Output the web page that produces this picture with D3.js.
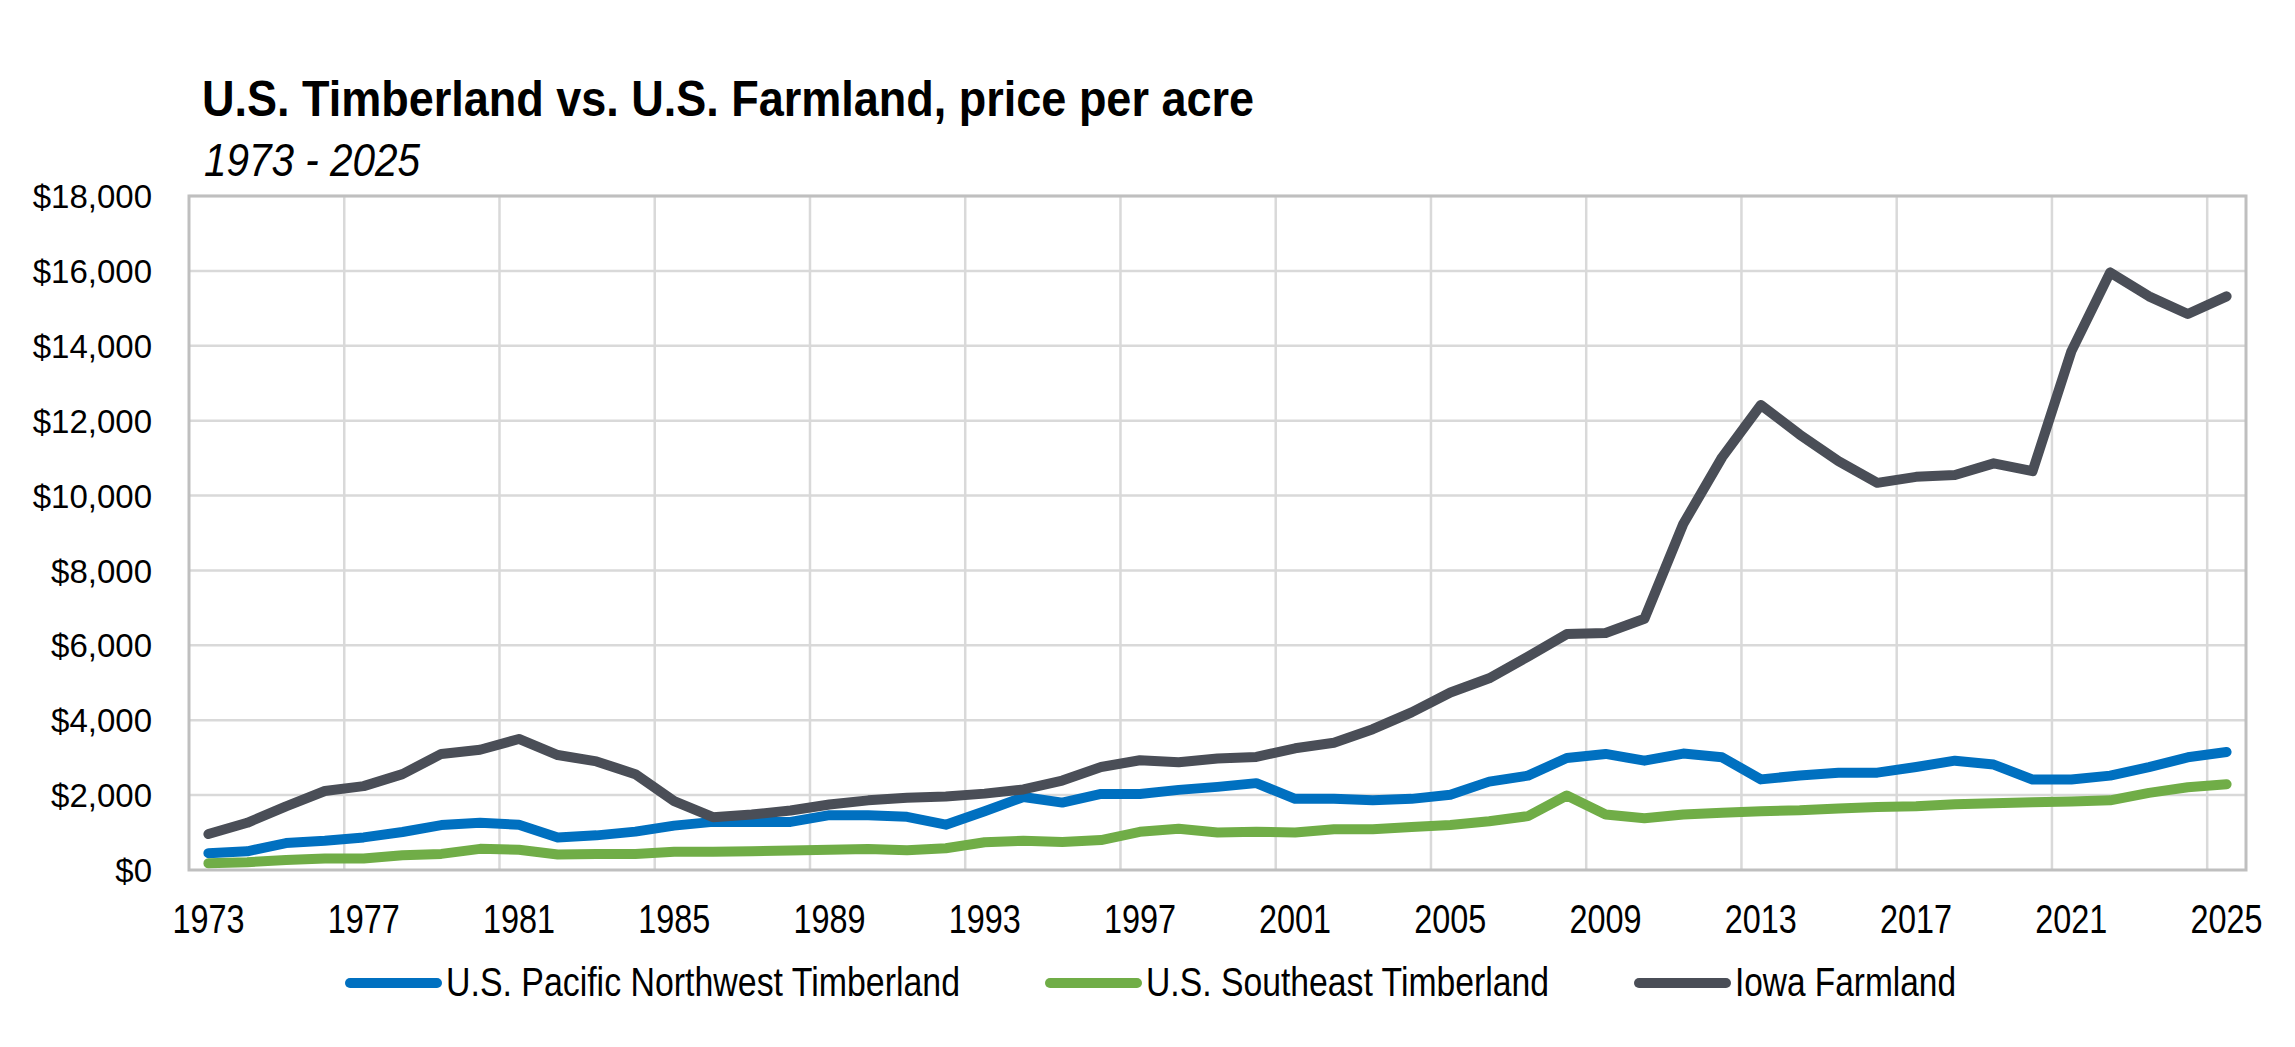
<!DOCTYPE html>
<html>
<head>
<meta charset="utf-8">
<script src="https://cdn.jsdelivr.net/npm/d3@7"></script>
<style>
  html, body { margin: 0; padding: 0; background: #ffffff; }
  svg { display: block; }
</style>
</head>
<body>
<svg id="chart" width="2295" height="1047"></svg>
<script>
// ---------- DATA ----------
const years = d3.range(1973, 2026);

const pacificNorthwest = [
  450, 500, 720, 780, 870, 1015, 1200, 1260, 1210, 870,
  925, 1025, 1185, 1285, 1285, 1285, 1465, 1465, 1420, 1210,
  1570, 1950, 1800, 2030, 2030, 2140, 2220, 2320, 1900, 1900,
  1860, 1900, 2010, 2360, 2520, 2990, 3100, 2920, 3110, 3010,
  2420, 2525, 2600, 2600, 2750, 2920, 2815, 2415, 2415, 2520,
  2750, 3010, 3150
];

const southeast = [
  180, 207, 270, 305, 305, 395, 430, 565, 540, 415,
  430, 430, 485, 485, 500, 520, 540, 560, 530, 580,
  740, 780, 750, 800, 1020, 1100, 1000, 1020, 1000, 1090,
  1090, 1150, 1200, 1300, 1440, 1990, 1480, 1380, 1480, 1530,
  1570, 1595, 1645, 1680, 1700, 1755, 1780, 1810, 1830, 1860,
  2060, 2210, 2290
];

const iowaFarmland = [
  960, 1260, 1700, 2110, 2240, 2560, 3100, 3210, 3500, 3070,
  2900, 2560, 1840, 1410, 1480, 1590, 1750, 1860, 1930, 1960,
  2040, 2150, 2390, 2750, 2930, 2880, 2980, 3020, 3250, 3400,
  3760, 4210, 4740, 5120, 5700, 6300, 6330, 6710, 9240, 11020,
  12420, 11630, 10920, 10340, 10500, 10550, 10860, 10650, 13850, 15960,
  15320, 14850, 15320
];

const seriesNames = ["U.S. Pacific Northwest Timberland", "U.S. Southeast Timberland", "Iowa Farmland"];
const seriesColors = ["#0070C0", "#70AD47", "#4A4E57"];
const yTicks = [0, 2000, 4000, 6000, 8000, 10000, 12000, 14000, 16000, 18000];
const xTickYears = years.filter((y, i) => i % 4 === 0);
const titleText = "U.S. Timberland vs. U.S. Farmland, price per acre";
const subtitleText = "1973 - 2025";

// ---------- LAYOUT ----------
const plot = { left: 189, right: 2246, top: 196, bottom: 870 };
const narrow = "'Liberation Sans Narrow', 'Arial Narrow', 'Liberation Sans', Arial, sans-serif";
const regular = "'Liberation Sans', Arial, sans-serif";

const svg = d3.select("#chart");

const x = d3.scaleBand().domain(years).range([plot.left, plot.right]).padding(0);
const cx = d => x(d) + x.bandwidth() / 2;
const y = d3.scaleLinear().domain([0, 18000]).range([plot.bottom, plot.top]);

// Title
svg.append("text")
  .attr("x", 202).attr("y", 116)
  .attr("font-family", narrow).attr("font-weight", "bold").attr("font-size", 50)
  .attr("textLength", 1052).attr("lengthAdjust", "spacingAndGlyphs")
  .attr("fill", "#000")
  .text(titleText);

svg.append("text")
  .attr("x", 204).attr("y", 176)
  .attr("font-family", narrow).attr("font-style", "italic").attr("font-size", 47)
  .attr("textLength", 216).attr("lengthAdjust", "spacingAndGlyphs")
  .attr("fill", "#000")
  .text(subtitleText);

// Horizontal gridlines
svg.append("g")
  .selectAll("line")
  .data(yTicks.filter(v => v > 0))
  .join("line")
  .attr("x1", plot.left).attr("x2", plot.right)
  .attr("y1", d => y(d)).attr("y2", d => y(d))
  .attr("stroke", "#D9D9D9").attr("stroke-width", 2.5);

// Vertical gridlines at category boundaries every 4 years
svg.append("g")
  .selectAll("line")
  .data(xTickYears.slice(1))
  .join("line")
  .attr("x1", d => x(d)).attr("x2", d => x(d))
  .attr("y1", plot.top).attr("y2", plot.bottom)
  .attr("stroke", "#D9D9D9").attr("stroke-width", 2.5);

// Plot border
svg.append("rect")
  .attr("x", plot.left).attr("y", plot.top)
  .attr("width", plot.right - plot.left).attr("height", plot.bottom - plot.top)
  .attr("fill", "none").attr("stroke", "#BFBFBF").attr("stroke-width", 3);

// Y axis
const yAxis = d3.axisLeft(y).tickValues(yTicks).tickFormat(d3.format("$,")).tickSize(0).tickPadding(37);
const gy = svg.append("g").attr("transform", `translate(${plot.left},0)`).call(yAxis);
gy.select(".domain").remove();
gy.selectAll("text")
  .attr("font-family", regular).attr("font-size", 33).attr("fill", "#000")
  .attr("dy", "0.35em");

// X axis
const xAxis = d3.axisBottom(x).tickValues(xTickYears).tickSize(0).tickPadding(0);
const gx = svg.append("g").attr("transform", `translate(0,${plot.bottom})`).call(xAxis);
gx.select(".domain").remove();
gx.selectAll("text")
  .attr("font-family", narrow).attr("font-size", 40).attr("fill", "#000")
  .attr("textLength", 72).attr("lengthAdjust", "spacingAndGlyphs")
  .attr("dy", 0).attr("y", 63);

// Lines
const allSeries = [pacificNorthwest, southeast, iowaFarmland];
const line = d3.line().x((d, i) => cx(years[i])).y(d => y(d));
svg.append("g")
  .selectAll("path")
  .data(allSeries)
  .join("path")
  .attr("d", d => line(d))
  .attr("fill", "none")
  .attr("stroke", (d, i) => seriesColors[i])
  .attr("stroke-width", 10)
  .attr("stroke-linejoin", "round")
  .attr("stroke-linecap", "round");

// Legend
const legendX = [350, 1050, 1639];
const legendTextLen = [514, 403, 221];
const legendY = 983;
const lg = svg.append("g")
  .selectAll("g")
  .data(seriesNames)
  .join("g")
  .attr("transform", (d, i) => `translate(${legendX[i]},${legendY})`);
lg.append("line")
  .attr("x1", 0).attr("x2", 87).attr("y1", 0).attr("y2", 0)
  .attr("stroke", (d, i) => seriesColors[i])
  .attr("stroke-width", 10).attr("stroke-linecap", "round");
lg.append("text")
  .attr("x", 96).attr("y", 13)
  .attr("font-family", narrow).attr("font-size", 40).attr("fill", "#000")
  .attr("textLength", (d, i) => legendTextLen[i]).attr("lengthAdjust", "spacingAndGlyphs")
  .text(d => d);
</script>
</body>
</html>
